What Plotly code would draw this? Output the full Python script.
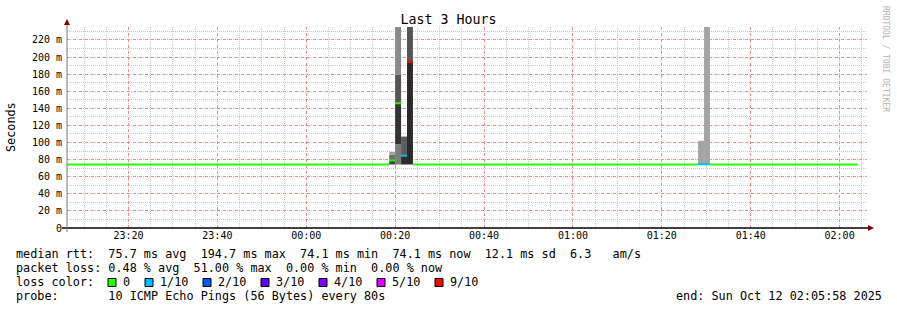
import plotly.graph_objects as go

# ---------------- data ----------------
x_start = "2025-10-11 23:06:10"
x_end = "2025-10-12 02:06:10"

med_start = ["2025-10-11 23:06:10", "2025-10-12 00:18:40", "2025-10-12 00:20:00",
             "2025-10-12 00:21:20", "2025-10-12 00:22:40", "2025-10-12 00:24:00",
             "2025-10-12 01:28:10", "2025-10-12 01:30:50"]
med_end = ["2025-10-12 00:18:40", "2025-10-12 00:20:00", "2025-10-12 00:21:20",
           "2025-10-12 00:22:40", "2025-10-12 00:24:00", "2025-10-12 01:28:10",
           "2025-10-12 01:30:50", "2025-10-12 02:04:05"]
med_val = [74.3, 79.0, 146.0, 84.6, 194.3, 74.3, 74.6, 74.3]
med_loss = [0, 0, 0, 1, 9, 0, 1, 0]

smoke_t = ["2025-10-12 00:18:40", "2025-10-12 00:18:40", "2025-10-12 00:18:40",
           "2025-10-12 00:20:00", "2025-10-12 00:20:00", "2025-10-12 00:20:00", "2025-10-12 00:20:00",
           "2025-10-12 00:21:20", "2025-10-12 00:21:20",
           "2025-10-12 00:22:40", "2025-10-12 00:22:40",
           "2025-10-12 01:28:10", "2025-10-12 01:29:30"]
smoke_lo = [74.3, 79.0, 86.0,
            74.3, 98.0, 146.0, 179.0,
            74.3, 84.6,
            74.3, 194.3,
            74.3, 74.3]
smoke_hi = [79.0, 86.0, 89.0,
            98.0, 146.0, 179.0, 250.0,
            84.6, 107.0,
            194.3, 250.0,
            102.0, 250.0]
smoke_col = ["#404040", "#6e6e6e", "#a0a0a0",
             "#7c7c7c", "#333333", "#555555", "#8a8a8a",
             "#2c2c2c", "#5c5c5c",
             "#2a2a2a", "#555555",
             "#a4a4a4", "#a4a4a4"]

loss_keys = [0, 1, 2, 3, 4, 5, 9]
loss_labels = ["0", "1/10", "2/10", "3/10", "4/10", "5/10", "9/10"]
loss_colors = ["#26ff00", "#00b8ff", "#0059ff", "#5e00ff", "#7e00ff", "#dd00ff", "#ff0000"]
loss_color_map = dict(zip(loss_keys, loss_colors))

y_tickvals = [0, 20, 40, 60, 80, 100, 120, 140, 160, 180, 200, 220]
y_ticktext = ["0", "20 m", "40 m", "60 m", "80 m", "100 m", "120 m", "140 m",
              "160 m", "180 m", "200 m", "220 m"]
x_major = ["2025-10-11 23:20", "2025-10-11 23:40", "2025-10-12 00:00", "2025-10-12 00:20",
           "2025-10-12 00:40", "2025-10-12 01:00", "2025-10-12 01:20", "2025-10-12 01:40",
           "2025-10-12 02:00"]

legend_rtt = "median rtt:  75.7 ms avg  194.7 ms max  74.1 ms min  74.1 ms now  12.1 ms sd  6.3   am/s"
legend_loss = "packet loss: 0.48 % avg  51.00 % max  0.00 % min  0.00 % now"
legend_probe = "probe:       10 ICMP Echo Pings (56 Bytes) every 80s"
legend_end = "end: Sun Oct 12 02:05:58 2025"

# ---------------- layout helpers ----------------
W, H = 897, 310
L, R, T, B = 67, 867, 27, 228
MONO = "DejaVu Sans Mono"


def px(x):
    return (x - L) / (R - L)


def py(y):
    return (B - y) / (B - T)


def nb(s):
    return s.replace(" ", "\u00a0")


fig = go.Figure()

fig.add_trace(go.Bar(
    x=smoke_t, base=smoke_lo, y=[h - l for h, l in zip(smoke_hi, smoke_lo)],
    width=80000, offset=0,
    marker=dict(color=smoke_col, line=dict(width=0)),
    hoverinfo="skip", showlegend=False,
))

for s, e, v, lo in zip(med_start, med_end, med_val, med_loss):
    fig.add_trace(go.Scatter(
        x=[s, e], y=[v, v], mode="lines",
        line=dict(color=loss_color_map[lo], width=2),
        hoverinfo="skip", showlegend=False,
    ))

RED = "#f08c8c"
GREY = "#c8c8c8"

fig.update_xaxes(
    type="date", range=[x_start, x_end],
    tickvals=x_major, tickformat="%H:%M",
    showgrid=True, gridcolor=RED, griddash="dot", gridwidth=1,
    minor=dict(tick0="2025-10-11 23:20:00", dtick=300000, showgrid=True,
               gridcolor=GREY, griddash="1px,1px", gridwidth=1, ticks=""),
    showline=False, zeroline=False, ticks="",
    tickfont=dict(family=MONO, size=10, color="#000"),
)
fig.update_yaxes(
    range=[0, 235.2], tickvals=y_tickvals, ticktext=y_ticktext,
    showgrid=True, gridcolor=RED, griddash="dot", gridwidth=1,
    minor=dict(tick0=0, dtick=10, showgrid=True, gridcolor=GREY,
               griddash="1px,1px", gridwidth=1, ticks=""),
    showline=False, zeroline=False, ticks="", ticklabelstandoff=4,
    tickfont=dict(family=MONO, size=10, color="#000"),
)

shapes = []
shapes.append(dict(type="line", xref="paper", yref="paper", xsizemode="pixel",
                   xanchor=0, x0=-5, x1=803, y0=0, y1=0, line=dict(color="#000", width=1.5), layer="above"))
shapes.append(dict(type="line", xref="paper", yref="paper", ysizemode="pixel",
                   yanchor=0, y0=-4, y1=205, x0=0, x1=0, line=dict(color="#7a7a7a", width=1), layer="above"))
shapes.append(dict(type="path", xref="paper", yref="paper", xsizemode="pixel", ysizemode="pixel",
                   xanchor=0, yanchor=1, path="M-3,2 L3,2 L0,8 Z",
                   fillcolor="#7f0000", line=dict(width=0), layer="above"))
shapes.append(dict(type="path", xref="paper", yref="paper", xsizemode="pixel", ysizemode="pixel",
                   xanchor=1, yanchor=0, path="M1,-3 L1,3 L7,0 Z",
                   fillcolor="#7f0000", line=dict(width=0), layer="above"))

annotations = []
TXT = dict(family=MONO, size=11.8, color="#000")


def text(x, y, s, anchor="left", font=TXT, angle=0):
    annotations.append(dict(x=px(x), y=py(y), xref="paper", yref="paper", text=nb(s),
                            showarrow=False, xanchor=anchor, yanchor="middle",
                            font=font, borderpad=0, borderwidth=0, textangle=angle))


text(16, 254, legend_rtt)
text(16, 268, legend_loss)
text(16, 282, "loss color:")
text(16, 296, legend_probe)
text(882, 296, legend_end, anchor="right")

sw_x = [108, 145, 203, 261, 319, 377, 435]
for xx, lab, col in zip(sw_x, loss_labels, loss_colors):
    shapes.append(dict(type="rect", xref="paper", yref="paper", xsizemode="pixel", ysizemode="pixel",
                       xanchor=px(xx), yanchor=py(282.5), x0=0, x1=8, y0=-4, y1=4,
                       fillcolor=col, line=dict(color="#000", width=1), layer="above"))
    text(xx + 15, 282, lab)

text(11, 127, "Seconds", anchor="center", font=dict(family=MONO, size=11.8, color="#000"), angle=-90)
text(886, 59, "RRDTOOL / TOBI OETIKER", anchor="center",
     font=dict(family=MONO, size=8, color="#b4b4b4"), angle=90)

fig.update_layout(
    width=W, height=H,
    margin=dict(l=L, r=W - R, t=T, b=H - B, pad=0),
    paper_bgcolor="white", plot_bgcolor="white",
    barmode="overlay", showlegend=False,
    title=dict(text="Last 3 Hours", x=0.5, xref="container", xanchor="center",
               y=1 - 19 / H, yref="container", yanchor="middle",
               font=dict(family=MONO, size=13.3, color="#000")),
    shapes=shapes, annotations=annotations,
)

fig.write_html("out.html")
